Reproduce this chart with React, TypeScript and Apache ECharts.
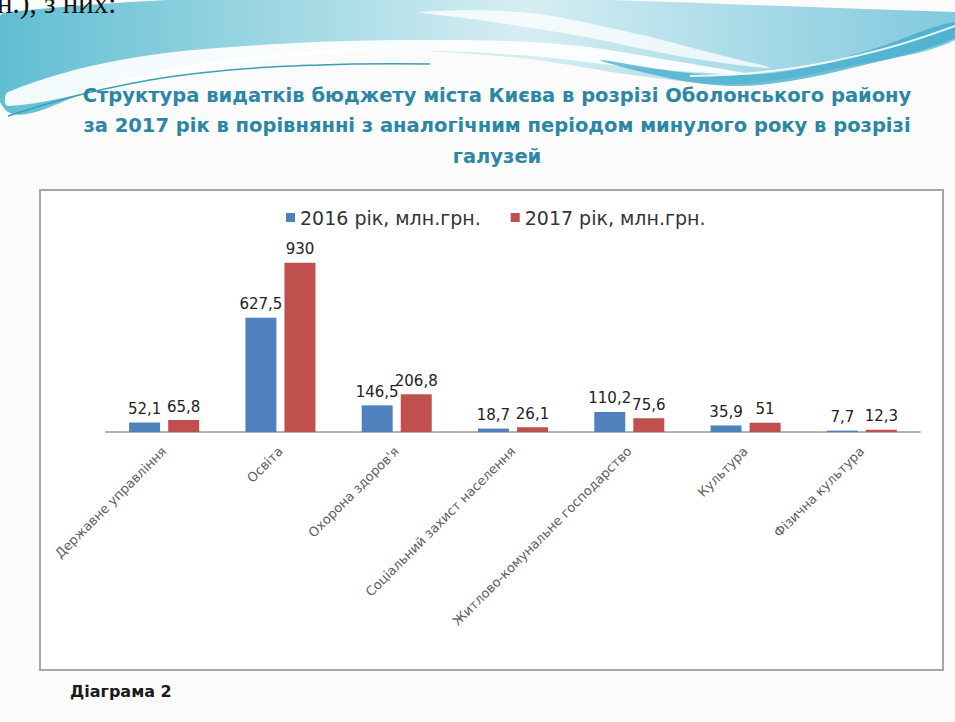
import React, { useEffect, useRef } from "react";
import * as echarts from "echarts";

const categories = [
  "Державне управління",
  "Освіта",
  "Охорона здоров'я",
  "Соціальний захист населення",
  "Житлово-комунальне господарство",
  "Культура",
  "Фізична культура",
];
const values2016 = [52.1, 627.5, 146.5, 18.7, 110.2, 35.9, 7.7];
const values2017 = [65.8, 930, 206.8, 26.1, 75.6, 51, 12.3];
const seriesNames = ["2016 рік, млн.грн.", "2017 рік, млн.грн."];
const titleLines = [
  "Структура видатків бюджету міста Києва в розрізі Оболонського району",
  "за 2017 рік в порівнянні з аналогічним періодом минулого року в розрізі",
  "галузей",
];
const caption = "Діаграма 2";
const cutText = "н.), з них:";

const FONT = "'DejaVu Sans', Verdana, sans-serif";

export default function App() {
  const ref = useRef<HTMLDivElement>(null);
  useEffect(() => {
    if (!ref.current) return;
    const chart = echarts.init(ref.current, null, { renderer: "svg" });
    const fmt = (p: any) => String(p.value).replace(".", ",");
    const bannerGrad = new echarts.graphic.LinearGradient(0, 0, 1, 0, [
      { offset: 0, color: "#5ebdd1" },
      { offset: 0.3, color: "#9fd7e3" },
      { offset: 0.55, color: "#d6eef3" },
      { offset: 0.8, color: "#a5d9e7" },
      { offset: 1, color: "#7fc9de" },
    ]);
    const labelStyle = {
      show: true,
      position: "top",
      distance: 6,
      formatter: fmt,
      fontFamily: FONT,
      fontSize: 15,
      color: "#222",
    };
    chart.setOption({
      animation: false,
      backgroundColor: "#fbfbfb",
      graphic: [
        {
          type: "text",
          z: 1,
          style: {
            text: cutText,
            x: -3,
            y: 3,
            verticalAlign: "middle",
            align: "left",
            font: "29px 'Liberation Serif', 'Times New Roman', serif",
            fill: "#111",
          },
        },
        {
          type: "polygon",
          z: 0,
          shape: {
            smooth: 0.35,
            points: [
              [8, 12], [955, 12], [955, 40], [850, 66], [740, 84], [640, 76],
              [520, 58], [380, 50], [240, 58], [120, 80], [8, 112],
            ],
          },
          style: { fill: bannerGrad },
        },
        {
          type: "polygon",
          z: 0,
          shape: {
            smooth: 0.35,
            points: [
              [8, 92], [120, 60], [260, 45], [420, 40], [560, 44], [680, 62], [745, 74],
              [640, 68], [520, 55], [380, 51], [240, 62], [120, 86], [8, 106],
            ],
          },
          style: { fill: "#ffffff", opacity: 0.92 },
        },
        {
          type: "polygon",
          z: 0,
          shape: {
            smooth: 0.35,
            points: [
              [420, 12], [520, 12], [620, 30], [720, 55], [770, 68],
              [690, 58], [580, 36], [480, 20],
            ],
          },
          style: { fill: "#ffffff", opacity: 0.75 },
        },
        {
          type: "polygon",
          z: 0,
          shape: {
            smooth: 0.35,
            points: [
              [600, 60], [700, 74], [780, 72], [870, 50], [955, 22],
              [955, 38], [860, 66], [760, 85], [690, 82],
            ],
          },
          style: { fill: "#3fabcb", opacity: 0.75 },
        },
        {
          type: "polyline",
          z: 0,
          shape: {
            smooth: 0.4,
            points: [[955, 26], [880, 50], [780, 70], [690, 76]],
          },
          style: { stroke: "#ffffff", lineWidth: 2, opacity: 0.85, fill: null },
        },
        {
          type: "polyline",
          z: 0,
          shape: {
            smooth: 0.4,
            points: [[8, 116], [100, 90], [200, 73], [320, 65], [430, 64]],
          },
          style: { stroke: "#3aa0b5", lineWidth: 1.5, fill: null },
        },
        ...titleLines.map((t, i) => ({
          type: "text",
          z: 1,
          style: {
            text: t,
            x: 497,
            y: 95 + i * 30.5,
            align: "center",
            verticalAlign: "middle",
            font: `bold 19.5px ${FONT}`,
            fill: "#2b87a3",
          },
        })),
        {
          type: "rect",
          z: 0,
          shape: { x: 40, y: 190, width: 903, height: 480 },
          style: { fill: "#ffffff", stroke: "#a6a6a6", lineWidth: 2 },
        },
        {
          type: "text",
          z: 1,
          style: {
            text: caption,
            x: 70,
            y: 691,
            align: "left",
            verticalAlign: "middle",
            font: `bold 16px ${FONT}`,
            fill: "#1a1a1a",
          },
        },
      ],
      legend: {
        data: seriesNames,
        left: 281,
        top: 203,
        icon: "rect",
        itemWidth: 9,
        itemHeight: 9,
        itemGap: 30,
        textStyle: { fontFamily: FONT, fontSize: 19, color: "#333" },
      },
      grid: { left: 106, right: 35, top: 250, bottom: 290, containLabel: false },
      xAxis: {
        type: "category",
        data: categories,
        axisLine: { lineStyle: { color: "#b3b3b3", width: 2 } },
        axisTick: { show: false },
        axisLabel: {
          rotate: 45,
          margin: 17,
          interval: 0,
          fontFamily: FONT,
          fontSize: 13,
          color: "#5f5f5f",
        },
      },
      yAxis: {
        type: "value",
        min: 0,
        max: 1000,
        show: false,
        splitLine: { show: false },
      },
      series: [
        {
          name: seriesNames[0],
          type: "bar",
          data: values2016,
          barWidth: 31,
          barGap: "26%",
          itemStyle: { color: "#4f81bd" },
          label: labelStyle,
        },
        {
          name: seriesNames[1],
          type: "bar",
          data: values2017,
          barWidth: 31,
          itemStyle: { color: "#c0504d" },
          label: labelStyle,
        },
      ],
    });
    return () => chart.dispose();
  }, []);
  return (
    <div
      ref={ref}
      style={{ position: "absolute", left: 0, top: 0, width: 955, height: 722 }}
    />
  );
}
